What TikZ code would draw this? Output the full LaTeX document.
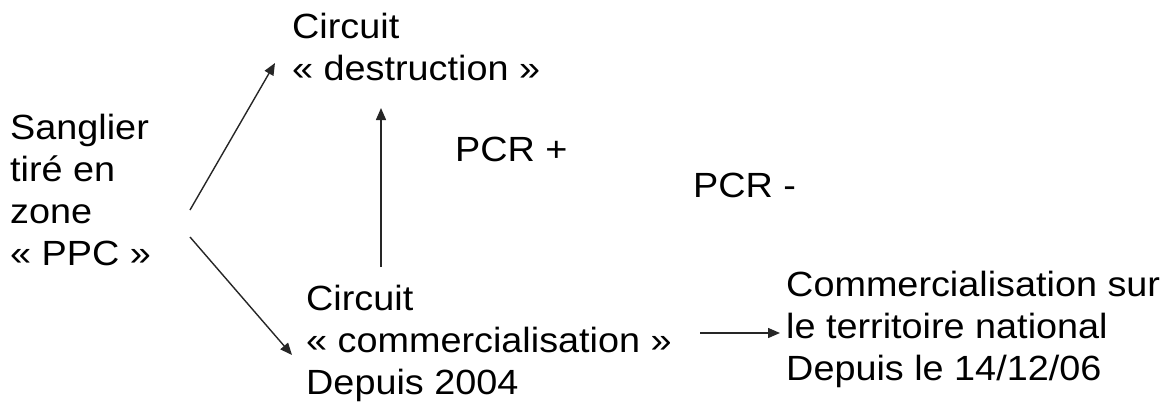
\documentclass[tikz,border=0pt]{standalone}
\usepackage{fontspec}
\setmainfont{Liberation Sans}[FakeStretch=1.08]
\usetikzlibrary{arrows.meta}
\begin{document}
\begin{tikzpicture}[x=1pt,y=-1pt,
  lbl/.style={anchor=north west,inner sep=0pt,align=left,font=\fontsize{35}{42}\selectfont},
  arr/.style={-{Triangle[length=12pt,width=10pt]},line width=1.4pt,black!85}]
\useasboundingbox (0,0) rectangle (1175,405);
\node[lbl] (src) at (10,113.5) {Sanglier\\tiré en\\zone\\« PPC »};
\node[lbl] (dest) at (292,12.5) {Circuit\\« destruction »};
\node[lbl] (comm) at (306,284.5) {Circuit\\« commercialisation »\\Depuis 2004};
\node[lbl] (pcrp) at (455,137) {PCR +};
\node[lbl] (pcrm) at (693,173) {PCR -};
\node[lbl] (nat) at (786,270.5) {Commercialisation sur\\le territoire national\\Depuis le 14/12/06};
\draw[arr] ([shift={(180,96.5)}]src.north west) -- ([shift={(-17,50.5)}]dest.north west);
\draw[arr] ([shift={(180,123.5)}]src.north west) -- ([shift={(-14,70.5)}]comm.north west);
\draw[arr] ([shift={(75,-17.5)}]comm.north west) -- ([shift={(89,95.5)}]dest.north west);
\draw[arr] ([shift={(-86,62.5)}]nat.north west) -- ([shift={(-6,62.5)}]nat.north west);
\end{tikzpicture}
\end{document}
